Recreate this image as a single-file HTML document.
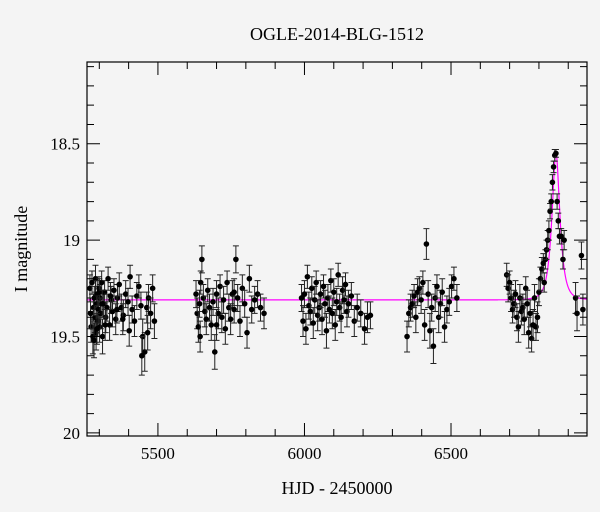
<!DOCTYPE html>
<html><head><meta charset="utf-8"><style>
body{margin:0;background:#f4f4f4;}
svg{display:block;font-family:"Liberation Serif",serif;}
</style></head><body>
<svg id="chart" width="600" height="512">
<rect x="0" y="0" width="600" height="512" fill="#f4f4f4"/>
<text x="337" y="40" font-size="18" text-anchor="middle">OGLE-2014-BLG-1512</text>
<text x="337" y="494" font-size="18" text-anchor="middle">HJD - 2450000</text>
<text x="27" y="249" font-size="18" text-anchor="middle" transform="rotate(-90 27 249)">I magnitude</text>
<g id="plot"></g>
</svg>
<script>
const T=[5268,5272,5275,5278,5280,5283,5285,5287,5289,5291,5293,5295,5297,5299,5301,5303,5305,5308,5311,5314,5318,5322,5326,5330,5335,5340,5345,5350,5356,5362,5368,5375,5382,5390,5398,5405,5412,5420,5428,5435,5442,5448,5455,5462,5468,5475,5482,5488,5270,5282,5292,5300,5310,5320,5338,5360,5380,5402,5445,5465,
5630,5634,5638,5642,5646,5650,5655,5660,5665,5670,5676,5682,5688,5694,5700,5706,5712,5718,5724,5730,5736,5742,5748,5754,5760,5766,5772,5780,5788,5796,5804,5812,5820,5830,5840,5850,5862,5644,5700,5760,
5990,5995,6000,6005,6010,6015,6020,6025,6030,6035,6040,6045,6050,6055,6060,6065,6070,6075,6080,6085,6090,6095,6100,6105,6110,6115,6120,6125,6130,6135,6140,6145,6150,6160,6170,6180,6192,6205,6215,6225,
6350,6356,6362,6368,6374,6380,6386,6392,6398,6404,6410,6416,6422,6428,6434,6440,6446,6452,6458,6464,6470,6478,6486,6494,6502,6510,6520,
6690,6695,6700,6705,6710,6715,6720,6725,6730,6735,6740,6745,6750,6755,6760,6765,6770,6775,6780,6785,6790,6795,6800,6805,6810,6815,6818,6822,6826,6830,6834,6838,6842,6846,6850,6854,6858,6862,6866,6870,6876,6882,6886,6925,6930,6945,6950];
const MAG=[19.25,19.45,19.22,19.5,19.35,19.3,19.4,19.2,19.48,19.33,19.28,19.42,19.36,19.25,19.45,19.3,19.38,19.22,19.5,19.33,19.27,19.4,19.35,19.2,19.44,19.31,19.37,19.26,19.41,19.3,19.23,19.35,19.39,19.28,19.32,19.19,19.36,19.42,19.29,19.24,19.34,19.5,19.58,19.35,19.3,19.38,19.25,19.42,19.38,19.52,19.46,19.27,19.33,19.44,19.29,19.36,19.41,19.47,19.6,19.48,
19.28,19.38,19.45,19.33,19.22,19.1,19.3,19.37,19.41,19.26,19.35,19.44,19.32,19.58,19.28,19.38,19.24,19.4,19.31,19.46,19.22,19.35,19.41,19.28,19.36,19.1,19.3,19.42,19.25,19.33,19.48,19.2,19.36,19.31,19.28,19.35,19.38,19.5,19.44,19.27,
19.3,19.42,19.28,19.46,19.19,19.34,19.37,19.25,19.43,19.31,19.22,19.39,19.35,19.28,19.41,19.24,19.33,19.47,19.3,19.36,19.21,19.38,19.27,19.44,19.32,19.18,19.35,19.4,19.26,19.31,19.23,19.37,19.33,19.29,19.42,19.35,19.38,19.46,19.4,19.39,
19.5,19.38,19.35,19.33,19.29,19.4,19.27,19.25,19.31,19.22,19.44,19.02,19.28,19.47,19.35,19.55,19.3,19.24,19.4,19.33,19.27,19.45,19.36,19.32,19.24,19.2,19.3,
19.18,19.25,19.22,19.3,19.36,19.33,19.28,19.4,19.45,19.3,19.37,19.35,19.41,19.25,19.33,19.48,19.38,19.51,19.44,19.3,19.45,19.4,19.27,19.2,19.15,19.12,19.22,19.1,19.05,19.0,18.95,18.85,18.8,18.7,18.62,18.56,18.55,18.8,18.9,18.98,18.98,19.1,19.0,19.3,19.38,19.08,19.36];
const ERR=[0.07,0.08,0.06,0.09,0.07,0.06,0.08,0.07,0.09,0.06,0.07,0.08,0.07,0.06,0.08,0.07,0.08,0.06,0.09,0.07,0.06,0.08,0.07,0.06,0.08,0.07,0.08,0.06,0.08,0.07,0.06,0.07,0.08,0.07,0.07,0.06,0.07,0.08,0.07,0.06,0.07,0.09,0.1,0.08,0.07,0.08,0.07,0.09,0.08,0.09,0.08,0.07,0.07,0.08,0.07,0.07,0.08,0.08,0.1,0.09,
0.07,0.08,0.08,0.07,0.06,0.07,0.07,0.08,0.08,0.06,0.07,0.08,0.07,0.09,0.07,0.08,0.06,0.08,0.07,0.08,0.06,0.07,0.08,0.07,0.07,0.07,0.07,0.08,0.07,0.07,0.08,0.07,0.07,0.07,0.07,0.07,0.08,0.08,0.08,0.07,
0.07,0.08,0.07,0.08,0.06,0.07,0.07,0.06,0.08,0.07,0.06,0.08,0.07,0.07,0.08,0.06,0.07,0.09,0.07,0.07,0.06,0.08,0.07,0.08,0.07,0.06,0.07,0.08,0.07,0.07,0.06,0.08,0.07,0.07,0.08,0.07,0.07,0.08,0.08,0.07,
0.08,0.07,0.07,0.07,0.06,0.08,0.07,0.06,0.07,0.06,0.08,0.08,0.07,0.09,0.07,0.09,0.07,0.06,0.08,0.07,0.07,0.08,0.07,0.07,0.06,0.06,0.07,
0.06,0.07,0.06,0.07,0.07,0.07,0.07,0.07,0.08,0.07,0.07,0.07,0.08,0.06,0.07,0.08,0.07,0.07,0.08,0.07,0.07,0.08,0.07,0.06,0.06,0.05,0.05,0.05,0.05,0.05,0.05,0.04,0.04,0.04,0.03,0.03,0.02,0.04,0.04,0.04,0.04,0.05,0.05,0.08,0.09,0.07,0.08];
const XTICKS=[5500,6000,6500];
const YTICKS=[18.5,19,19.5,20];
const YLABELS=["18.5","19","19.5","20"];
const XDOM=[5258,6964], YDOM=[18.076,20.016];
const MODEL_T0=[6858], MODEL_U0=[0.55], MODEL_TE=[22], MODEL_BASE=[19.31];

const L=87,R=587,TOP=62,BOT=436;
const sx=v=>L+(v-XDOM[0])/(XDOM[1]-XDOM[0])*(R-L);
const sy=v=>TOP+(v-YDOM[0])/(YDOM[1]-YDOM[0])*(BOT-TOP);
const NS="http://www.w3.org/2000/svg";
const g=document.getElementById('plot');
function mk(tag,a){const e=document.createElementNS(NS,tag);for(const k in a)e.setAttribute(k,a[k]);g.appendChild(e);return e;}

let d="";
for(let t=XDOM[0];t<=XDOM[1];t+=0.5){const u=Math.sqrt(MODEL_U0[0]**2+((t-MODEL_T0[0])/MODEL_TE[0])**2);const A=(u*u+2)/(u*Math.sqrt(u*u+4));const m=MODEL_BASE[0]-2.5*Math.log10(A);d+=(d?"L":"M")+sx(t).toFixed(2)+","+sy(m).toFixed(2);}
const model=mk('path',{d:d,fill:'none',stroke:'#ff00ff','stroke-width':1.2});



for(let i=0;i<T.length;i++){
  const x=sx(T[i]),y1=sy(MAG[i]-ERR[i]),y2=sy(MAG[i]+ERR[i]);
  const eb=mk('path',{d:`M${x},${y1}L${x},${y2}M${x-3},${y1}L${x+3},${y1}M${x-3},${y2}L${x+3},${y2}`,stroke:'#222','stroke-width':1,fill:'none'});
  
  
  const c=mk('circle',{cx:x,cy:sy(MAG[i]),r:2.8,fill:'#000'});
  
  
}

const fr=mk('rect',{x:L,y:TOP,width:R-L,height:BOT-TOP,fill:'none',stroke:'#000','stroke-width':1.2});



for(let v=5300;v<=6900;v+=100){
  const major=v%500===0,len=major?13:7,x=sx(v);
  const tk=mk('path',{d:`M${x},${BOT}L${x},${BOT-len}M${x},${TOP}L${x},${TOP+len}`,stroke:'#000','stroke-width':1});
  
  
}
XTICKS.forEach(v=>{
  const t=mk('text',{x:sx(v),y:BOT+23,'font-size':17,'text-anchor':'middle'});t.textContent=v;
  
  
});
for(let k=181;k<=200;k++){
  const v=k/10,major=k%5===0,len=major?13:7,y=sy(v);
  const tk=mk('path',{d:`M${L},${y}L${L+len},${y}M${R},${y}L${R-len},${y}`,stroke:'#000','stroke-width':1});
  
  
}
YTICKS.forEach((v,i)=>{
  const t=mk('text',{x:L-7,y:sy(v)+6,'font-size':17,'text-anchor':'end'});t.textContent=YLABELS[i];
  
  
});
</script>
</body></html>
